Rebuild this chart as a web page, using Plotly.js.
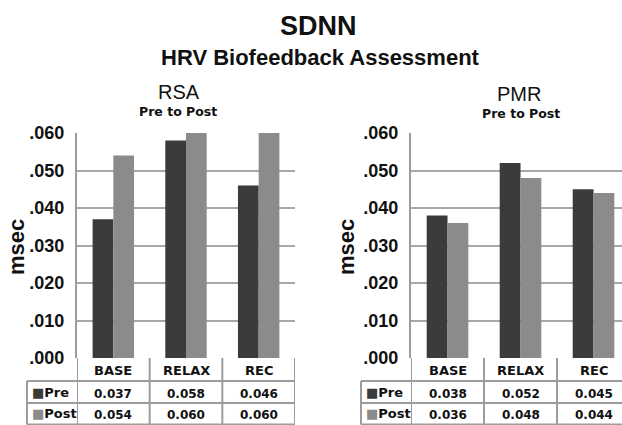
<!DOCTYPE html>
<html><head><meta charset="utf-8">
<script src="https://cdn.plot.ly/plotly-3.0.1.min.js"></script>
<style>html,body{margin:0;padding:0;background:#fff}#chart{width:622px;height:425px}</style>
</head><body><div id="chart"></div>
<script>
// ---- data ----
const categories = ['BASE', 'RELAX', 'REC'];
const seriesNames = ['Pre', 'Post'];
const rsaPre  = [0.037, 0.058, 0.046];
const rsaPost = [0.054, 0.060, 0.060];
const pmrPre  = [0.038, 0.052, 0.045];
const pmrPost = [0.036, 0.048, 0.044];
const yTickVals = [0, 0.01, 0.02, 0.03, 0.04, 0.05, 0.06];
const yTickText = ['.000', '.010', '.020', '.030', '.040', '.050', '.060'];
const mainTitle = 'SDNN';
const subTitle = 'HRV Biofeedback Assessment';
const panelTitles = ['RSA', 'PMR'];
const panelSubtitle = 'Pre to Post';
const yLabel = 'msec';

// ---- layout helpers ----
const W = 622, H = 425;
const px = v => v / W;
const py = v => 1 - v / H;
const preColor = '#3b3b3b', postColor = '#8b8b8b';
const gridColor = '#a8a8a8', lineColor = '#9c9c9c';
const arial = 'Liberation Sans, Arial, sans-serif';
const dejavu = 'DejaVu Sans, sans-serif';

const panels = [
  {pre: rsaPre, post: rsaPost, xa: 'x', ya: 'y', x0: 77, x1: 295, range: [-0.5, 2.5], legL: 27,
   title: panelTitles[0], tx: 178.5, ty: 92, stx: 177.5, sty: 111, msecX: 16},
  {pre: pmrPre, post: pmrPost, xa: 'x2', ya: 'y2', x0: 411, x1: 622, range: [-0.5, 2.39], legL: 361,
   title: panelTitles[1], tx: 518.5, ty: 94, stx: 521, sty: 113, msecX: 346}
];
const plotTop = 133, plotBot = 358, row1 = 381, row2 = 403, row3 = 424.5;

const traces = [];
const shapes = [];
const annotations = [];
const layout = {
  width: W, height: H,
  margin: {l: 0, r: 0, t: 0, b: 0},
  paper_bgcolor: '#ffffff', plot_bgcolor: '#ffffff',
  showlegend: false,
  barmode: 'group', bargap: 0.43, bargroupgap: 0,
  font: {family: arial, color: '#111'}
};

panels.forEach((p, k) => {
  const sfx = k === 0 ? '' : '2';
  traces.push({type: 'bar', x: categories, y: p.pre, name: seriesNames[0],
    marker: {color: preColor}, xaxis: p.xa, yaxis: p.ya, hoverinfo: 'skip'});
  traces.push({type: 'bar', x: categories, y: p.post, name: seriesNames[1],
    marker: {color: postColor}, xaxis: p.xa, yaxis: p.ya, hoverinfo: 'skip'});
  layout['xaxis' + sfx] = {
    domain: [px(p.x0), px(p.x1)], range: p.range, type: 'category',
    anchor: p.ya, showticklabels: false, showgrid: false, zeroline: false,
    showline: false, ticks: '', fixedrange: true
  };
  layout['yaxis' + sfx] = {
    domain: [py(plotBot), py(plotTop)], range: [0, 0.06], anchor: p.xa,
    tickmode: 'array', tickvals: yTickVals, ticktext: yTickText,
    tickfont: {family: arial, size: 18, color: '#111', weight: 'bold'},
    ticks: '', ticklabelstandoff: 7,
    showgrid: true, gridcolor: gridColor, gridwidth: 2,
    showline: true, linecolor: lineColor, linewidth: 2,
    zeroline: false, fixedrange: true
  };

  // table lines
  const ln = {color: lineColor, width: 2};
  // vertical column dividers in header + value rows
  [-0.5, 0.5, 1.5, 2.5].forEach(xv => {
    shapes.push({type: 'line', xref: p.xa, yref: 'paper', x0: xv, x1: xv,
      y0: py(plotBot), y1: py(row3), line: ln});
  });
  // horizontal row lines across category columns
  [row1, row2, row3].forEach(yv => {
    shapes.push({type: 'line', xref: p.xa, yref: 'paper', x0: -0.5, x1: 2.5,
      y0: py(yv), y1: py(yv), line: ln});
    shapes.push({type: 'line', xref: 'paper', yref: 'paper', x0: px(p.legL), x1: px(p.x0),
      y0: py(yv), y1: py(yv), line: ln});
  });
  // legend column left border
  shapes.push({type: 'line', xref: 'paper', yref: 'paper', x0: px(p.legL), x1: px(p.legL),
    y0: py(row1), y1: py(row3), line: ln});

  // category header labels
  categories.forEach((c, i) => {
    annotations.push({xref: p.xa, yref: 'paper', x: i, y: py((plotBot + row1) / 2 + 1),
      text: c, showarrow: false, xanchor: 'center', yanchor: 'middle',
      font: {family: dejavu, size: 13, color: '#111', weight: 'bold'}});
    annotations.push({xref: p.xa, yref: 'paper', x: i, y: py((row1 + row2) / 2 + 1.5),
      text: p.pre[i].toFixed(3), showarrow: false, xanchor: 'center', yanchor: 'middle',
      font: {family: dejavu, size: 12, color: '#111', weight: 'bold'}});
    annotations.push({xref: p.xa, yref: 'paper', x: i, y: py((row2 + row3) / 2 + 1.5),
      text: p.post[i].toFixed(3), showarrow: false, xanchor: 'center', yanchor: 'middle',
      font: {family: dejavu, size: 12, color: '#111', weight: 'bold'}});
  });
  // legend labels
  [[seriesNames[0], preColor, row1, row2], [seriesNames[1], postColor, row2, row3]].forEach(([nm, col, a, b]) => {
    annotations.push({xref: 'paper', yref: 'paper', x: px(p.legL + 3), y: py((a + b) / 2),
      text: '<span style="color:' + col + '">■</span>' + nm, showarrow: false,
      xanchor: 'left', yanchor: 'middle',
      font: {family: dejavu, size: 13, color: '#111', weight: 'bold'}});
  });

  // panel titles
  annotations.push({xref: 'paper', yref: 'paper', x: px(p.tx), y: py(p.ty), text: p.title,
    showarrow: false, xanchor: 'center', yanchor: 'middle',
    font: {family: arial, size: 20, color: '#111'}});
  annotations.push({xref: 'paper', yref: 'paper', x: px(p.stx), y: py(p.sty), text: panelSubtitle,
    showarrow: false, xanchor: 'center', yanchor: 'middle',
    font: {family: dejavu, size: 12.5, color: '#111', weight: 'bold'}});
  // y label
  annotations.push({xref: 'paper', yref: 'paper', x: px(p.msecX), y: py(247), text: yLabel,
    showarrow: false, xanchor: 'center', yanchor: 'middle', textangle: -90,
    font: {family: arial, size: 22, color: '#111', weight: 'bold'}});
});

// main titles
annotations.push({xref: 'paper', yref: 'paper', x: px(318), y: py(26), text: mainTitle,
  showarrow: false, xanchor: 'center', yanchor: 'middle',
  font: {family: arial, size: 27, color: '#111', weight: 'bold'}});
annotations.push({xref: 'paper', yref: 'paper', x: px(320), y: py(57), text: subTitle,
  showarrow: false, xanchor: 'center', yanchor: 'middle',
  font: {family: arial, size: 22, color: '#111', weight: 'bold'}});

layout.shapes = shapes;
layout.annotations = annotations;

Plotly.newPlot('chart', traces, layout, {staticPlot: true, displayModeBar: false});
</script>
</body></html>
